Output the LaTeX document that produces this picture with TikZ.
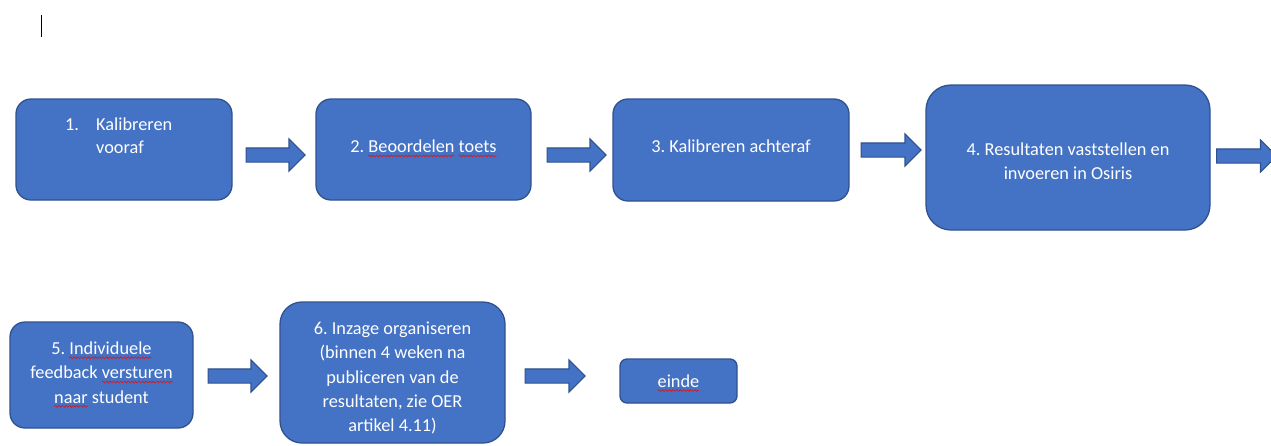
\documentclass[tikz,border=0pt]{standalone}
\usepackage{fontspec}
\setmainfont{Carlito}
\frenchspacing
\usetikzlibrary{shapes.arrows,decorations.pathmorphing}
\definecolor{blu}{HTML}{4472C4}
\definecolor{bord}{HTML}{2F528F}
\definecolor{squig}{HTML}{D0202A}
\newlength\wavelen
\newcommand\spellwave[1]{\settowidth\wavelen{#1}%
  \rlap{\tikz[baseline=0pt, x=1pt, y=1pt]{\path (0,0);
    \draw[overlay, squig, line width=0.8pt, decorate, decoration={snake, amplitude=0.9pt, segment length=3.6pt}]
      (0,-3.2) -- (\wavelen,-3.2);}}#1}
\tikzset{
  box/.style={draw=bord, fill=blu, line width=1.3pt, rounded corners=#1, inner sep=0pt},
  lbl/.style={text=white, font=\fontsize{18.3}{24.3}\selectfont, align=center, inner sep=0pt},
  barrow/.style={single arrow, draw=bord, fill=blu, line width=1.1pt, anchor=tail,
    inner xsep=0pt, inner ysep=6.5pt, text height=0pt, text depth=0pt, text width=0pt,
    single arrow head extend=9pt, single arrow tip angle=90, minimum height=#1},
  caret/.style={draw=black, line width=1pt}
}
\begin{document}
\begin{tikzpicture}[x=1pt,y=-1pt]
\useasboundingbox (0,0) rectangle (1271,445);
\clip (0,0) rectangle (1271,445);
% text cursor
\coordinate (c1) at (41,15);
\coordinate (c2) at (41,37);
\draw[caret] (c1) -- (c2);
% boxes
\node[box=15pt, minimum width=216pt, minimum height=101pt] (b1) at (124,149.5) {};
\node[box=15pt, minimum width=215pt, minimum height=101pt] (b2) at (423.5,149.5) {};
\node[box=15pt, minimum width=236pt, minimum height=102pt] (b3) at (731,150) {};
\node[box=25pt, minimum width=284pt, minimum height=145pt] (b4) at (1068,157.5) {};
\node[box=15pt, minimum width=183pt, minimum height=106pt] (b5) at (101.5,375) {};
\node[box=22pt, minimum width=225pt, minimum height=141pt] (b6) at (392.5,372.5) {};
\node[box=7pt, minimum width=117pt, minimum height=44pt] (b7) at (678.5,381) {};
% texts
\node[lbl, align=left, anchor=north west, font=\fontsize{18.3}{22.7}\selectfont] (t1) at (65,118)
  {\makebox[31pt][l]{1.}Kalibreren\\\hspace*{31pt}vooraf};
\node[lbl] (t2) at ([yshift=3pt]b2.center) {2. \spellwave{Beoordelen} \spellwave{toets}};
\node[lbl] (t3) at ([yshift=4pt]b3.center) {3. Kalibreren achteraf};
\node[lbl] (t4) at ([yshift=-4pt]b4.center) {4. Resultaten vaststellen en\\invoeren in Osiris};
\node[lbl] (t5) at ([yshift=2.5pt]b5.center) {5. \spellwave{Individuele}\\feedback \spellwave{versturen}\\\spellwave{naar} student};
\node[lbl] (t6) at ([yshift=-5.5pt]b6.center) {6. Inzage organiseren\\(binnen 4 weken na\\publiceren van de\\resultaten, zie OER\\artikel 4.11)};
\node[lbl] (t7) at (b7.center) {\spellwave{einde}};
% block arrows (placed by their tail)
\node[barrow=59pt] (a1) at (245.5,155) {};
\node[barrow=59pt] (a2) at (546.5,155) {};
\node[barrow=60pt] (a3) at (860.5,150) {};
\node[barrow=60pt] (a4) at (1216,156) {};
\node[barrow=59pt] (a5) at (207.5,376) {};
\node[barrow=60pt] (a6) at (524.5,376) {};
\end{tikzpicture}
\end{document}
